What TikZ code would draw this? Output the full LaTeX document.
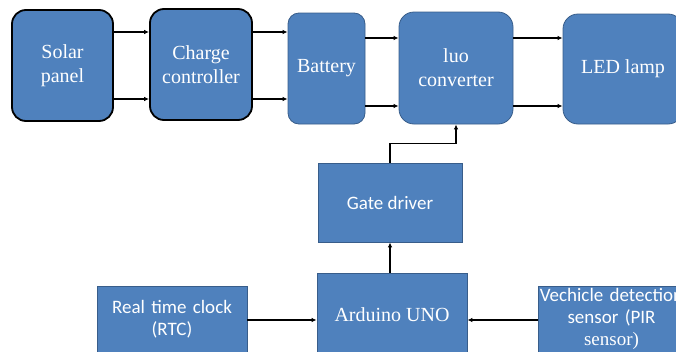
\documentclass[tikz,border=0pt]{standalone}
\usepackage{fontspec}
\setmainfont{Liberation Serif}
\newfontfamily\calibri{Carlito}
\usepackage{tikz}
\usetikzlibrary{arrows.meta,positioning,calc}
\definecolor{boxblue}{RGB}{79,129,189}
\definecolor{boxedge}{RGB}{56,93,138}

\begin{document}
\begin{tikzpicture}[x=1pt,y=-1pt,>={Latex[length=5pt,width=4.5pt]},
  blk/.style={draw=boxedge,line width=0.8pt,fill=boxblue,text=white,inner sep=0pt,align=center,
    font=\fontsize{20}{24}\selectfont},
  ctl/.style={blk,font=\calibri\fontsize{19}{22}\selectfont},
  edge/.style={draw=black,line width=1.8pt},
  link/.style={->,line width=1.4pt}]
  \useasboundingbox (0,0) rectangle (676,351);
  \clip (0,0) rectangle (676,351);
  % power chain (top row)
  \node[blk,edge,rounded corners=14pt,minimum width=101pt,minimum height=111pt] (solar) at (62.5,65.5) {Solar\\panel};
  \node[blk,edge,rounded corners=14pt,minimum width=102pt,minimum height=111pt] (charge) at (201,64.5) {Charge\\controller};
  \node[blk,rounded corners=11pt,minimum width=77pt,minimum height=111pt] (battery) at (326.5,68.5) {Battery};
  \node[blk,rounded corners=15pt,minimum width=114pt,minimum height=112pt] (luo) at (456,68) {luo\\converter};
  \node[blk,rounded corners=15pt,minimum width=120pt,minimum height=110pt] (led) at (623,69) {LED lamp};
  % control part (bottom)
  \node[ctl,minimum width=144pt,minimum height=79pt] (gate) at (390,202.5) {Gate driver};
  \node[blk,minimum width=150pt,minimum height=84pt] (uno) at (392,315) {Arduino UNO};
  \node[ctl,text width=150pt,minimum height=66.5pt] (rtc) at (172,319.25) {Real time clock\\(RTC)};
  \node[ctl,text width=147pt,minimum height=66pt] (pir) at (611.5,319) {Vechicle detection\\sensor (PIR\\{\rmfamily sensor)}};
  % arrow levels
  \coordinate (hiA) at (0,32);
  \coordinate (loA) at (0,99);
  \coordinate (hiB) at (0,38);
  \coordinate (loB) at (0,106);
  \coordinate (mid) at (0,320);
  \draw[link] (solar.east |- hiA) -- (charge.west |- hiA);
  \draw[link] (solar.east |- loA) -- (charge.west |- loA);
  \draw[link] (charge.east |- hiA) -- (battery.west |- hiA);
  \draw[link] (charge.east |- loA) -- (battery.west |- loA);
  \draw[link] (battery.east |- hiB) -- (luo.west |- hiB);
  \draw[link] (battery.east |- loB) -- (luo.west |- loB);
  \draw[link] (luo.east |- hiB) -- (led.west |- hiB);
  \draw[link] (luo.east |- loB) -- (led.west |- loB);
  \draw[link] (uno.north -| gate.south) -- (gate.south);
  \draw[link] (gate.north) -- ++(0,-19) -| (luo.south);
  \draw[link] (rtc.east |- mid) -- (uno.west |- mid);
  \draw[link] (pir.west |- mid) -- (uno.east |- mid);
\end{tikzpicture}
\end{document}
